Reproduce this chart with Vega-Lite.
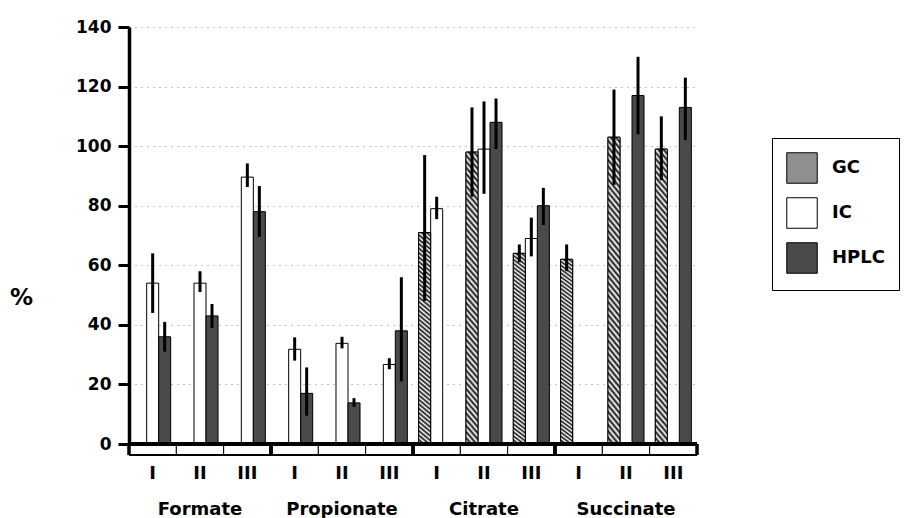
{
  "$schema": "https://vega.github.io/schema/vega-lite/v6.json",
  "width": 568,
  "height": 417,
  "autosize": {"type": "none"},
  "padding": {"left": 129, "top": 27, "right": 210, "bottom": 74},
  "background": "white",
  "config": {
    "font": "DejaVu Sans",
    "view": {"stroke": null}
  },
  "datasets": {
    "bars": [
      {"key": "Formate I", "method": "IC", "value": 54, "lo": 44, "hi": 64},
      {"key": "Formate I", "method": "HPLC", "value": 36, "lo": 31, "hi": 41},
      {"key": "Formate II", "method": "IC", "value": 54, "lo": 51, "hi": 58},
      {"key": "Formate II", "method": "HPLC", "value": 43, "lo": 39, "hi": 47},
      {"key": "Formate III", "method": "IC", "value": 89.6, "lo": 86.3, "hi": 94.2},
      {"key": "Formate III", "method": "HPLC", "value": 78, "lo": 69.5, "hi": 86.6},
      {"key": "Propionate I", "method": "IC", "value": 31.8, "lo": 28, "hi": 35.8},
      {"key": "Propionate I", "method": "HPLC", "value": 17, "lo": 9.5, "hi": 25.7},
      {"key": "Propionate II", "method": "IC", "value": 33.8, "lo": 32.1, "hi": 36},
      {"key": "Propionate II", "method": "HPLC", "value": 13.8, "lo": 12.5, "hi": 15.4},
      {"key": "Propionate III", "method": "IC", "value": 26.7, "lo": 25.1, "hi": 28.8},
      {"key": "Propionate III", "method": "HPLC", "value": 38, "lo": 21, "hi": 56},
      {"key": "Citrate I", "method": "GC", "value": 71, "lo": 48, "hi": 97},
      {"key": "Citrate I", "method": "IC", "value": 79, "lo": 75.5, "hi": 83},
      {"key": "Citrate II", "method": "GC", "value": 98, "lo": 83, "hi": 113},
      {"key": "Citrate II", "method": "IC", "value": 99, "lo": 84, "hi": 115},
      {"key": "Citrate II", "method": "HPLC", "value": 108, "lo": 99, "hi": 116},
      {"key": "Citrate III", "method": "GC", "value": 64, "lo": 61, "hi": 67},
      {"key": "Citrate III", "method": "IC", "value": 69, "lo": 63, "hi": 76},
      {"key": "Citrate III", "method": "HPLC", "value": 80, "lo": 73.5, "hi": 86},
      {"key": "Succinate I", "method": "GC", "value": 62, "lo": 58, "hi": 67},
      {"key": "Succinate II", "method": "GC", "value": 103, "lo": 87, "hi": 119},
      {"key": "Succinate II", "method": "HPLC", "value": 117, "lo": 104, "hi": 130},
      {"key": "Succinate III", "method": "GC", "value": 99, "lo": 88.6, "hi": 110},
      {"key": "Succinate III", "method": "HPLC", "value": 113, "lo": 102, "hi": 123}
    ],
    "cats": [
      {"key": "Formate I", "group": "Formate", "pos": "first"},
      {"key": "Formate II", "group": "Formate", "pos": "mid"},
      {"key": "Formate III", "group": "Formate", "pos": "last"},
      {"key": "Propionate I", "group": "Propionate", "pos": "first"},
      {"key": "Propionate II", "group": "Propionate", "pos": "mid"},
      {"key": "Propionate III", "group": "Propionate", "pos": "last"},
      {"key": "Citrate I", "group": "Citrate", "pos": "first"},
      {"key": "Citrate II", "group": "Citrate", "pos": "mid"},
      {"key": "Citrate III", "group": "Citrate", "pos": "last"},
      {"key": "Succinate I", "group": "Succinate", "pos": "first"},
      {"key": "Succinate II", "group": "Succinate", "pos": "mid"},
      {"key": "Succinate III", "group": "Succinate", "pos": "last"}
    ]
  },
  "layer": [
    {
      "data": {"name": "bars"},
      "mark": {"type": "bar", "stroke": "black", "strokeWidth": 1},
      "encoding": {
        "x": {
          "field": "key",
          "type": "nominal",
          "title": null,
          "scale": {
            "domain": ["Formate I", "Formate II", "Formate III", "Propionate I", "Propionate II", "Propionate III", "Citrate I", "Citrate II", "Citrate III", "Succinate I", "Succinate II", "Succinate III"],
            "paddingInner": 0,
            "paddingOuter": 0
          },
          "axis": {
            "domain": false,
            "ticks": false,
            "grid": false,
            "labelAngle": 0,
            "labelExpr": "peek(split(datum.value, ' '))",
            "labelFont": "DejaVu Sans",
            "labelFontWeight": "bold",
            "labelFontSize": 18,
            "labelColor": "black",
            "labelPadding": 20
          }
        },
        "xOffset": {
          "field": "method",
          "type": "nominal",
          "scale": {"domain": ["GC", "IC", "HPLC"], "paddingInner": 0, "paddingOuter": 0.47}
        },
        "y": {
          "field": "value",
          "type": "quantitative",
          "scale": {"domain": [0, 140], "nice": false, "zero": true},
          "axis": {
            "values": [0, 20, 40, 60, 80, 100, 120, 140],
            "title": "%",
            "titleAngle": 0,
            "titleFont": "DejaVu Sans",
            "titleFontSize": 23,
            "titleFontWeight": "bold",
            "titleColor": "black",
            "titleAlign": "center",
            "titleBaseline": "middle",
            "titleX": -108,
            "titleY": 270,
            "labelFont": "DejaVu Sans",
            "labelFontSize": 17,
            "labelFontWeight": "bold",
            "labelColor": "black",
            "labelPadding": 7,
            "tickSize": 11,
            "tickWidth": 3,
            "tickColor": "black",
            "domainWidth": 3.5,
            "domainColor": "black",
            "grid": true,
            "gridDash": [1, 5],
            "gridColor": "#8c8c8c",
            "gridWidth": 1
          }
        },
        "fill": {
          "field": "method",
          "type": "nominal",
          "scale": {"domain": ["GC", "IC", "HPLC"], "range": ["#8f8f8f", "#ffffff", "#4a4a4a"]},
          "legend": {
            "title": null,
            "orient": "none",
            "legendX": 643,
            "legendY": 111,
            "symbolType": "square",
            "symbolSize": 930,
            "symbolStrokeColor": "black",
            "symbolStrokeWidth": 1,
            "symbolOpacity": 1,
            "labelFont": "DejaVu Sans",
            "labelFontSize": 18,
            "labelFontWeight": "bold",
            "labelColor": "black",
            "labelOffset": 14,
            "rowPadding": 9,
            "padding": 14,
            "strokeColor": "black",
            "fillColor": "white",
            "encode": {
              "symbols": {
                "update": {
                  "stroke": {"value": "black"},
                  "strokeWidth": {"value": 1},
                  "opacity": {"value": 1}
                }
              }
            }
          }
        }
      }
    },
    {
      "data": {"name": "bars"},
      "transform": [{"filter": "datum.method === 'GC'"}],
      "mark": {
        "type": "bar",
        "stroke": "black",
        "strokeWidth": 1,
        "fill": {
          "gradient": "linear", "x1": 0, "y1": 1, "x2": 1, "y2": -20,
          "stops": [
            {"offset": 0, "color": "#111111"}, {"offset": 0.0005, "color": "#ffffff"},
            {"offset": 0.001, "color": "#111111"}, {"offset": 0.0015, "color": "#ffffff"},
            {"offset": 0.002, "color": "#111111"}, {"offset": 0.0025, "color": "#ffffff"},
            {"offset": 0.003, "color": "#111111"}, {"offset": 0.0035, "color": "#ffffff"},
            {"offset": 0.004, "color": "#111111"}, {"offset": 0.0045, "color": "#ffffff"},
            {"offset": 0.005, "color": "#111111"}, {"offset": 0.0055, "color": "#ffffff"},
            {"offset": 0.006, "color": "#111111"}, {"offset": 0.0065, "color": "#ffffff"},
            {"offset": 0.007, "color": "#111111"}, {"offset": 0.0075, "color": "#ffffff"},
            {"offset": 0.008, "color": "#111111"}, {"offset": 0.0085, "color": "#ffffff"},
            {"offset": 0.009, "color": "#111111"}, {"offset": 0.0095, "color": "#ffffff"},
            {"offset": 0.01, "color": "#111111"}, {"offset": 0.0105, "color": "#ffffff"},
            {"offset": 0.011, "color": "#111111"}, {"offset": 0.0115, "color": "#ffffff"},
            {"offset": 0.012, "color": "#111111"}, {"offset": 0.0125, "color": "#ffffff"},
            {"offset": 0.013, "color": "#111111"}, {"offset": 0.0135, "color": "#ffffff"},
            {"offset": 0.014, "color": "#111111"}, {"offset": 0.0145, "color": "#ffffff"},
            {"offset": 0.015, "color": "#111111"}, {"offset": 0.0155, "color": "#ffffff"},
            {"offset": 0.016, "color": "#111111"}, {"offset": 0.0165, "color": "#ffffff"},
            {"offset": 0.017, "color": "#111111"}, {"offset": 0.0175, "color": "#ffffff"},
            {"offset": 0.018, "color": "#111111"}, {"offset": 0.0185, "color": "#ffffff"},
            {"offset": 0.019, "color": "#111111"}, {"offset": 0.0195, "color": "#ffffff"},
            {"offset": 0.02, "color": "#111111"}, {"offset": 0.0205, "color": "#ffffff"},
            {"offset": 0.021, "color": "#111111"}, {"offset": 0.0215, "color": "#ffffff"},
            {"offset": 0.022, "color": "#111111"}, {"offset": 0.0225, "color": "#ffffff"},
            {"offset": 0.023, "color": "#111111"}, {"offset": 0.0235, "color": "#ffffff"},
            {"offset": 0.024, "color": "#111111"}, {"offset": 0.0245, "color": "#ffffff"},
            {"offset": 0.025, "color": "#111111"}, {"offset": 0.0255, "color": "#ffffff"},
            {"offset": 0.026, "color": "#111111"}, {"offset": 0.0265, "color": "#ffffff"},
            {"offset": 0.027, "color": "#111111"}, {"offset": 0.0275, "color": "#ffffff"},
            {"offset": 0.028, "color": "#111111"}, {"offset": 0.0285, "color": "#ffffff"},
            {"offset": 0.029, "color": "#111111"}, {"offset": 0.0295, "color": "#ffffff"},
            {"offset": 0.03, "color": "#111111"}, {"offset": 0.0305, "color": "#ffffff"},
            {"offset": 0.031, "color": "#111111"}, {"offset": 0.0315, "color": "#ffffff"},
            {"offset": 0.032, "color": "#111111"}, {"offset": 0.0325, "color": "#ffffff"},
            {"offset": 0.033, "color": "#111111"}, {"offset": 0.0335, "color": "#ffffff"},
            {"offset": 0.034, "color": "#111111"}, {"offset": 0.0345, "color": "#ffffff"},
            {"offset": 0.035, "color": "#111111"}, {"offset": 0.0355, "color": "#ffffff"},
            {"offset": 0.036, "color": "#111111"}, {"offset": 0.0365, "color": "#ffffff"},
            {"offset": 0.037, "color": "#111111"}, {"offset": 0.0375, "color": "#ffffff"},
            {"offset": 0.038, "color": "#111111"}, {"offset": 0.0385, "color": "#ffffff"},
            {"offset": 0.039, "color": "#111111"}, {"offset": 0.0395, "color": "#ffffff"},
            {"offset": 0.04, "color": "#111111"}, {"offset": 0.0405, "color": "#ffffff"},
            {"offset": 0.041, "color": "#111111"}, {"offset": 0.0415, "color": "#ffffff"},
            {"offset": 0.042, "color": "#111111"}, {"offset": 0.0425, "color": "#ffffff"},
            {"offset": 0.043, "color": "#111111"}, {"offset": 0.0435, "color": "#ffffff"},
            {"offset": 0.044, "color": "#111111"}, {"offset": 0.0445, "color": "#ffffff"},
            {"offset": 0.045, "color": "#111111"}, {"offset": 0.0455, "color": "#ffffff"},
            {"offset": 0.046, "color": "#111111"}, {"offset": 0.0465, "color": "#ffffff"},
            {"offset": 0.047, "color": "#111111"}, {"offset": 0.0475, "color": "#ffffff"},
            {"offset": 0.048, "color": "#111111"}, {"offset": 0.0485, "color": "#ffffff"},
            {"offset": 0.049, "color": "#111111"}, {"offset": 0.0495, "color": "#ffffff"},
            {"offset": 0.05, "color": "#111111"}
          ]
        }
      },
      "encoding": {
        "x": {"field": "key", "type": "nominal"},
        "xOffset": {"field": "method", "type": "nominal"},
        "y": {"field": "value", "type": "quantitative"}
      }
    },
    {
      "data": {"name": "bars"},
      "mark": {"type": "rule", "stroke": "black", "strokeWidth": 3},
      "encoding": {
        "x": {"field": "key", "type": "nominal"},
        "xOffset": {"field": "method", "type": "nominal"},
        "y": {"field": "lo", "type": "quantitative"},
        "y2": {"field": "hi"}
      }
    },
    {
      "data": {"name": "cats"},
      "mark": {"type": "rect", "fill": "white", "stroke": "black", "strokeWidth": 1},
      "encoding": {
        "x": {"field": "key", "type": "nominal"},
        "y": {"datum": -3.7},
        "y2": {"datum": 0}
      }
    },
    {
      "data": {"name": "cats"},
      "mark": {"type": "rule", "stroke": "black", "strokeWidth": 3},
      "encoding": {
        "y": {"datum": 0}
      }
    },
    {
      "data": {"name": "cats"},
      "mark": {"type": "rule", "stroke": "black", "strokeWidth": 2},
      "encoding": {
        "y": {"datum": -3.7}
      }
    },
    {
      "data": {"name": "cats"},
      "transform": [{"filter": "datum.pos === 'first'"}],
      "mark": {"type": "rule", "stroke": "black", "strokeWidth": 3.5},
      "encoding": {
        "x": {"field": "key", "type": "nominal", "bandPosition": 0},
        "y": {"datum": -3.7},
        "y2": {"datum": 0}
      }
    },
    {
      "data": {"name": "cats"},
      "transform": [{"filter": "datum.pos === 'last'"}],
      "mark": {"type": "rule", "stroke": "black", "strokeWidth": 3.5},
      "encoding": {
        "x": {"field": "key", "type": "nominal", "bandPosition": 1},
        "y": {"datum": -3.7},
        "y2": {"datum": 0}
      }
    },
    {
      "data": {"name": "cats"},
      "transform": [{"filter": "datum.pos === 'mid'"}],
      "mark": {"type": "text", "font": "DejaVu Sans", "fontSize": 18, "fontWeight": "bold", "color": "black", "align": "center", "baseline": "middle"},
      "encoding": {
        "x": {"field": "key", "type": "nominal"},
        "y": {"datum": -22.2},
        "text": {"field": "group", "type": "nominal"}
      }
    }
  ]
}
